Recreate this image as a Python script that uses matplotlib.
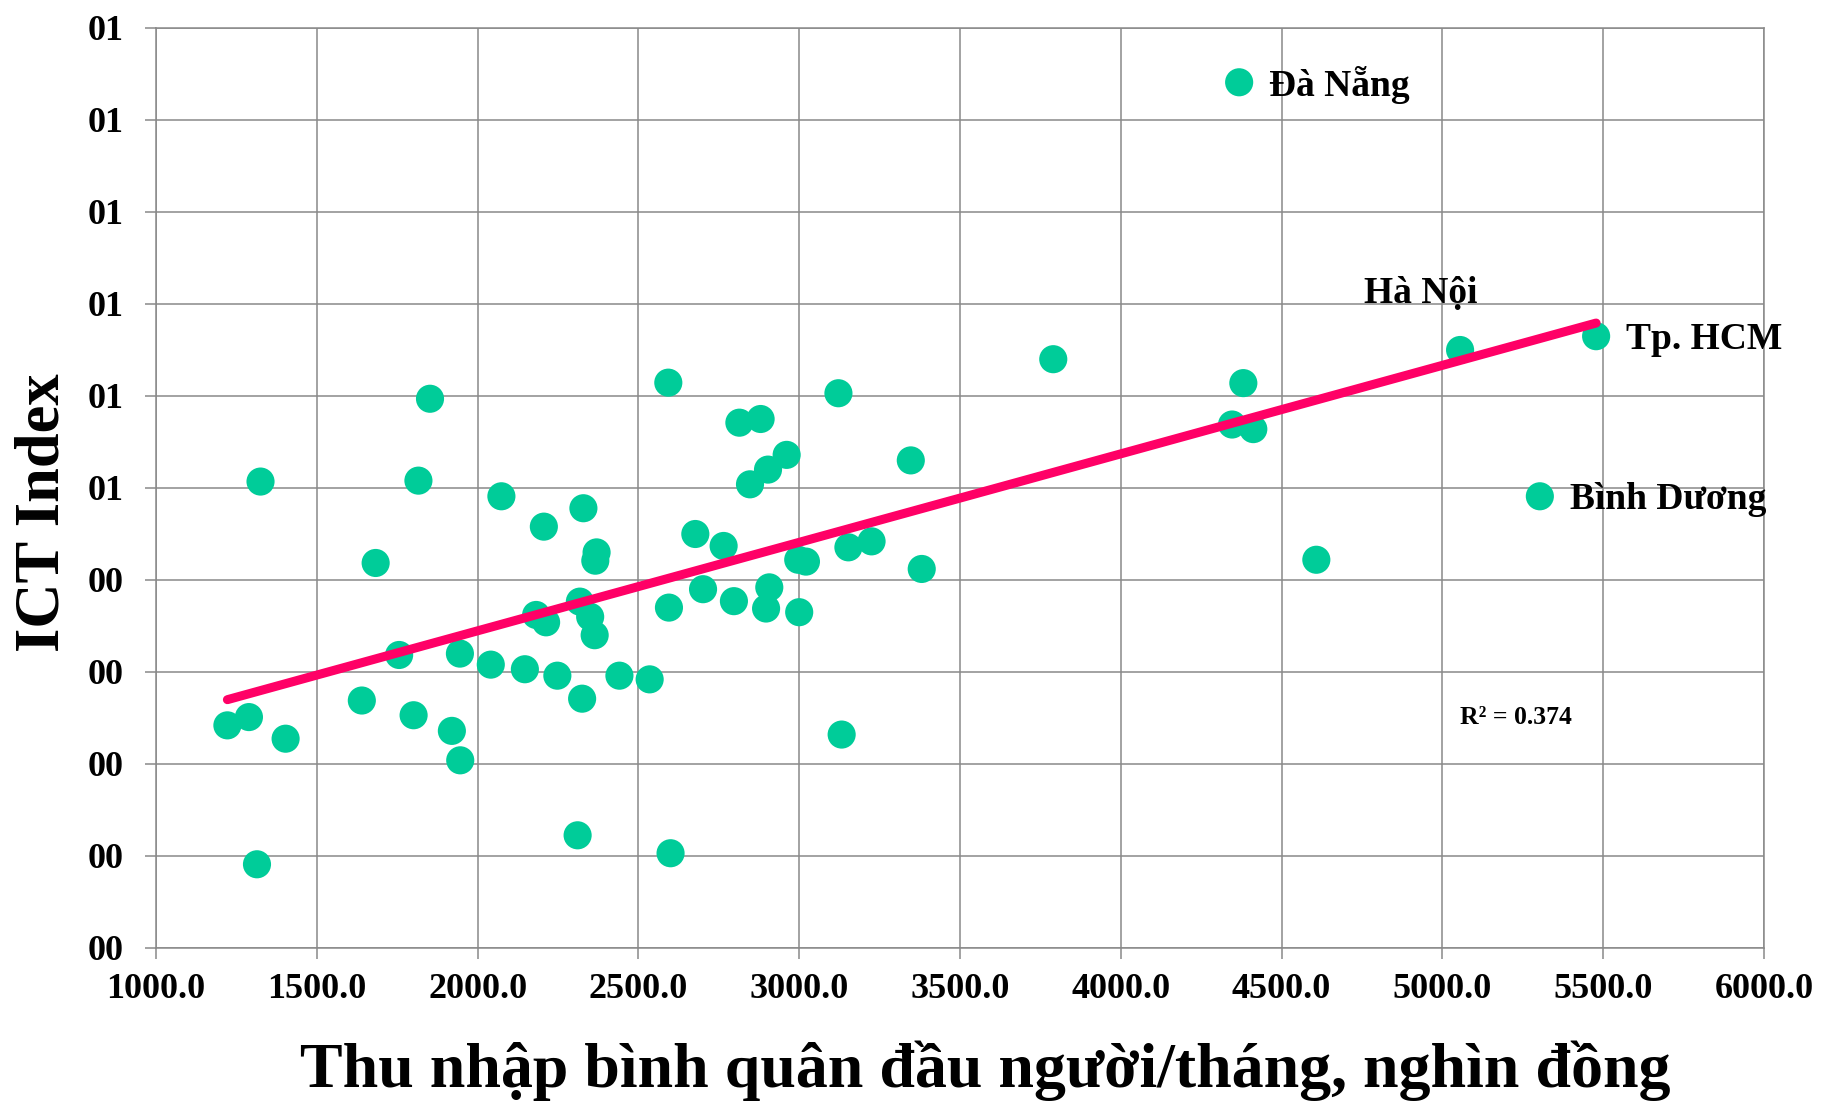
import numpy as np
import matplotlib
matplotlib.use('Agg')
import matplotlib.pyplot as plt

# income per capita per month (thousand VND) and ICT index, one point per province
income = [4368, 5055, 5478, 5303, 3790, 4381, 4346, 4412, 4608,
          2593, 3122, 2814, 2880, 2961, 2903, 2847, 3347,
          2074, 2329, 2206, 2370, 2366, 2677, 2765, 2997, 3021, 3153, 3225, 3381,
          2701, 2907, 2797, 2897, 3000, 2595, 2318, 2182, 2213, 2350, 2364,
          2041, 2147, 2248, 2441, 2535, 2325,
          1852, 1325, 1816, 1683, 1756, 1945,
          1222, 1289, 1403, 1640, 1801, 1920, 1946, 2311, 1314, 3132, 2600]
ict = [0.941, 0.650, 0.665, 0.491, 0.640, 0.614, 0.569, 0.564, 0.422,
       0.6145, 0.603, 0.571, 0.575, 0.536, 0.520, 0.504, 0.530,
       0.491, 0.478, 0.458, 0.430, 0.421, 0.450, 0.437, 0.422, 0.420, 0.4355, 0.442, 0.412,
       0.390, 0.392, 0.377, 0.369, 0.365, 0.370, 0.3765, 0.362, 0.354, 0.360, 0.340,
       0.308, 0.303, 0.296, 0.296, 0.292, 0.271,
       0.597, 0.507, 0.508, 0.4185, 0.3185, 0.320,
       0.242, 0.251, 0.2275, 0.269, 0.253, 0.236, 0.204, 0.1225, 0.091, 0.232, 0.103]

# labelled provinces (first four points)
labels = ['Đà Nẵng', 'Hà Nội', 'Tp. HCM', 'Bình Dương']
label_idx = [0, 1, 2, 3]

xticks = [1000, 1500, 2000, 2500, 3000, 3500, 4000, 4500, 5000, 5500, 6000]
yticks = [0.0, 0.1, 0.2, 0.3, 0.4, 0.5, 0.6, 0.7, 0.8, 0.9, 1.0]
ytick_labels = ['00', '00', '00', '00', '00', '01', '01', '01', '01', '01', '01']
r2_text = 'R² = 0.374'

plt.rcParams['font.family'] = ['Liberation Serif', 'DejaVu Serif']
plt.rcParams['font.weight'] = 'bold'

grid_color = '#898989'
dot_color = '#00CC99'
line_color = '#FF0066'

fig = plt.figure(figsize=(18.25, 11.1), dpi=100)
ax = fig.add_axes([156 / 1825, 1 - 948 / 1110, (1764 - 156) / 1825, (948 - 28) / 1110])

x = np.array(income, dtype=float)
y = np.array(ict)
ax.scatter(x, y, s=410, color=dot_color, edgecolors='none', zorder=3)

# linear trend line
k, b = np.polyfit(x, y, 1)
xl = np.array([x.min(), x.max()])
ax.plot(xl, k * xl + b, color=line_color, lw=6.5, solid_capstyle='round', zorder=4)

offsets = [(30, -3), (-39, 57), (30, -3), (30, -3)]
aligns = [('left', 'center'), ('center', 'center'), ('left', 'center'), ('left', 'center')]
for name, i, off, al in zip(labels, label_idx, offsets, aligns):
    ax.annotate(name, (x[i], y[i]), xytext=off, textcoords='offset pixels',
                ha=al[0], va=al[1], fontsize=27, fontweight='bold', zorder=5)

ax.text(5055, 0.25, r2_text, fontsize=18.5, fontweight='bold', ha='left', va='center')

ax.set_xlim(1000, 6000)
ax.set_ylim(0, 1)
ax.set_xticks(xticks)
ax.set_xticklabels(['%.1f' % v for v in xticks])
ax.set_yticks(yticks)
ax.set_yticklabels(ytick_labels)
ax.grid(True, color=grid_color, lw=1.1, zorder=0)
ax.set_axisbelow(True)
for sp in ax.spines.values():
    sp.set_color(grid_color)
    sp.set_linewidth(1.1)
ax.tick_params(axis='both', direction='out', length=8, width=1.1, color=grid_color,
               labelsize=26)
ax.tick_params(axis='y', pad=15)
ax.tick_params(axis='x', pad=10)

fig.text(44 / 1825, 1 - 513 / 1110, 'ICT Index', rotation=90, fontsize=45,
         fontweight='bold', ha='center', va='center')
fig.text(985 / 1825, 1 - 1071 / 1110, 'Thu nhập bình quân đầu người/tháng, nghìn đồng',
         fontsize=46, fontweight='bold', ha='center', va='center')

fig.savefig('out.png', dpi=100)
